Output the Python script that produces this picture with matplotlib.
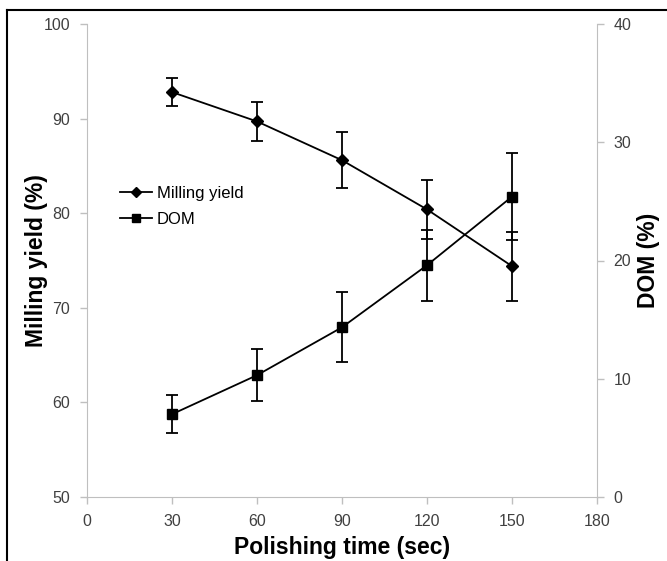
import matplotlib.pyplot as plt
from matplotlib.lines import Line2D

# data
time_sec = [30, 60, 90, 120, 150]
milling_yield = [92.8, 89.7, 85.6, 80.4, 74.4]
milling_err = [1.5, 2.1, 2.95, 3.1, 3.65]
dom = [7.0, 10.3, 14.35, 19.6, 25.4]
dom_err = [1.6, 2.2, 2.95, 3.0, 3.65]

x_ticks = [0, 30, 60, 90, 120, 150, 180]
left_ticks = [50, 60, 70, 80, 90, 100]
right_ticks = [0, 10, 20, 30, 40]

plt.rcParams['font.family'] = ['Liberation Sans', 'DejaVu Sans']
grey = "#bfbfbf"
tick_txt = "#404040"

fig = plt.figure(figsize=(6.67, 5.61), dpi=100)
ax = fig.add_axes([87/667, 1 - 497/561, 510/667, 473/561])
ax2 = ax.twinx()

ax.errorbar(time_sec, milling_yield, yerr=milling_err, color="black",
            marker="D", markersize=6, lw=1.3, elinewidth=1.3,
            capsize=4, capthick=1.3)
ax2.errorbar(time_sec, dom, yerr=dom_err, color="black",
             marker="s", markersize=7, lw=1.3, elinewidth=1.3,
             capsize=4, capthick=1.3)

ax.set_xlim(0, 180)
ax.set_ylim(50, 100)
ax2.set_ylim(0, 40)
ax.set_xticks(x_ticks)
ax.set_yticks(left_ticks)
ax2.set_yticks(right_ticks)

for a in (ax, ax2):
    for s in a.spines.values():
        s.set_color(grey)
    a.spines["top"].set_visible(False)
    a.tick_params(colors=grey, labelcolor=tick_txt, labelsize=11.5, length=5, width=1, pad=7)
ax.spines["right"].set_visible(False)
ax2.spines["left"].set_visible(False)
ax2.spines["bottom"].set_visible(False)

ax.set_xlabel("Polishing time (sec)", fontsize=16.5, fontweight="bold", labelpad=5)
ax.set_ylabel("Milling yield (%)", fontsize=16.5, fontweight="bold", labelpad=-3)
ax2.set_ylabel("DOM (%)", fontsize=16.5, fontweight="bold", labelpad=4)

# legend handles without error bars, like the original
h1 = Line2D([], [], color="black", marker="D", markersize=5, lw=1.3)
h2 = Line2D([], [], color="black", marker="s", markersize=6, lw=1.3)
ax.legend([h1, h2], ["Milling yield", "DOM"], loc="upper left",
          bbox_to_anchor=(0.035, 0.69), frameon=False, fontsize=12,
          handlelength=1.9, handletextpad=0.3, labelspacing=0.7)

# outer frame (top and left edges)
fig.add_artist(Line2D([7/667, 1], [1 - 10/561, 1 - 10/561], color="black", lw=1.5,
                      transform=fig.transFigure))
fig.add_artist(Line2D([7/667, 7/667], [0, 1 - 10/561], color="black", lw=1.5,
                      transform=fig.transFigure))

fig.savefig("out.png", dpi=100)
